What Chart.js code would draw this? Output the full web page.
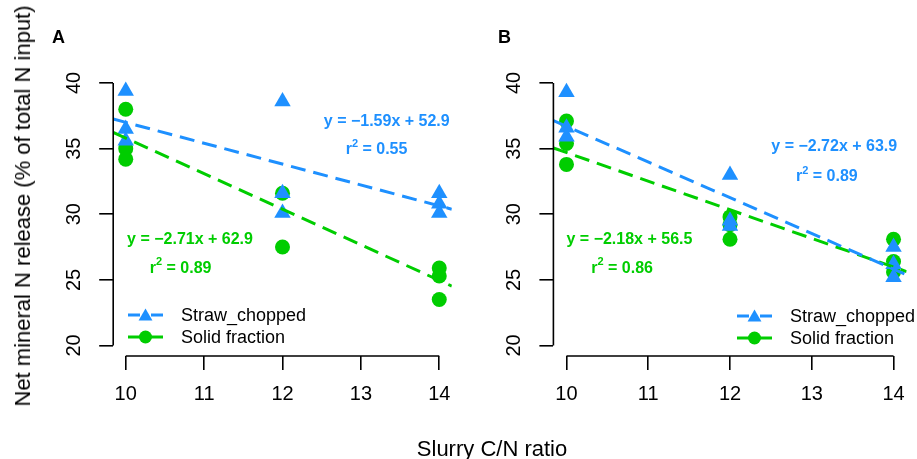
<!DOCTYPE html>
<html>
<head>
<meta charset="utf-8">
<script src="https://cdn.jsdelivr.net/npm/chart.js@4.4.0/dist/chart.umd.min.js"></script>
<style>
  html, body { margin: 0; padding: 0; background: #fff; }
  #wrap { position: relative; width: 917px; height: 459px; overflow: hidden;
          font-family: "Liberation Sans", Arial, sans-serif; color: #000; }
  canvas { position: absolute; top: 0; }
  #chartA { left: 0; }
  #chartB { left: 470px; }
  #ytitle { position: absolute; left: 23px; top: 206px; font-size: 22px; line-height: 26px;
            white-space: nowrap; transform: translate(-50%, -50%) rotate(-90deg); }
  #xtitle { position: absolute; left: 492px; top: 449px; font-size: 22px; line-height: 26px;
            white-space: nowrap; transform: translate(-50%, -50%); }
</style>
</head>
<body>
<div id="wrap">
  <canvas id="chartA" width="470" height="459"></canvas>
  <canvas id="chartB" width="447" height="459"></canvas>
  <div id="ytitle">Net mineral N release (% of total N input)</div>
  <div id="xtitle">Slurry C/N ratio</div>
</div>
<script>
const FONT = "'Liberation Sans', Arial, sans-serif";
const BLUE = "#1E90FF";
const GREEN = "#00CD00";

const xTicks = [10, 11, 12, 13, 14];
const yTicks = [20, 25, 30, 35, 40];
const seriesNames = ["Straw_chopped", "Solid fraction"];

// panel A
const strawXA = [10, 10, 10, 12, 12, 12, 14, 14, 14];
const strawYA = [39.4, 36.5, 35.6, 38.6, 31.6, 30.1, 31.6, 30.8, 30.1];
const solidXA = [10, 10, 10, 12, 12, 14, 14, 14];
const solidYA = [38.0, 35.0, 34.2, 31.6, 27.5, 25.9, 25.3, 23.5];
const strawFitA = [-1.59, 52.9];
const solidFitA = [-2.71, 62.9];
const strawR2A = 0.55;
const solidR2A = 0.89;

// panel B
const strawXB = [10, 10, 10, 12, 12, 12, 14, 14, 14];
const strawYB = [39.3, 36.6, 35.9, 33.0, 29.5, 29.1, 27.5, 26.2, 25.2];
const solidXB = [10, 10, 10, 12, 12, 12, 14, 14, 14];
const solidYB = [37.1, 35.4, 33.8, 29.8, 29.2, 28.1, 28.1, 26.4, 25.6];
const strawFitB = [-2.72, 63.9];
const solidFitB = [-2.18, 56.5];
const strawR2B = 0.89;
const solidR2B = 0.86;

const X_MIN = 9.84, X_MAX = 14.16;
const Y_MIN = 19.2, Y_MAX = 40.8;

const toPoints = (xs, ys) => xs.map((x, i) => ({ x: x, y: ys[i] }));
const fitLine = (fit) => [X_MIN, X_MAX].map(x => ({ x: x, y: fit[0] * x + fit[1] }));
const eqText = (fit) => "y = " + (fit[0] < 0 ? "\u2212" : "") + Math.abs(fit[0]).toFixed(2) + "x + " + fit[1].toFixed(1);

function drawMarker(ctx, style, x, y, r, color) {
  ctx.fillStyle = color;
  ctx.beginPath();
  if (style === "triangle") {
    ctx.moveTo(x, y - r);
    ctx.lineTo(x + r * Math.sqrt(3) / 2, y + r / 2);
    ctx.lineTo(x - r * Math.sqrt(3) / 2, y + r / 2);
    ctx.closePath();
  } else {
    ctx.arc(x, y, r, 0, Math.PI * 2);
  }
  ctx.fill();
}

const decorPlugin = {
  id: "decor",
  afterDraw(chart, args, opts) {
    const ctx = chart.ctx;
    const area = chart.chartArea;
    const xs = chart.scales.x, ys = chart.scales.y;
    ctx.save();

    // R style axis lines, only over the tick range
    ctx.strokeStyle = "#000";
    ctx.lineWidth = 1.6;
    ctx.beginPath();
    ctx.moveTo(xs.getPixelForValue(xTicks[0]), area.bottom);
    ctx.lineTo(xs.getPixelForValue(xTicks[xTicks.length - 1]), area.bottom);
    ctx.moveTo(area.left, ys.getPixelForValue(yTicks[0]));
    ctx.lineTo(area.left, ys.getPixelForValue(yTicks[yTicks.length - 1]));
    ctx.stroke();

    // rotated y tick labels
    ctx.fillStyle = "#000";
    ctx.font = "20px " + FONT;
    ctx.textAlign = "center";
    ctx.textBaseline = "alphabetic";
    ys.ticks.forEach(t => {
      ctx.save();
      ctx.translate(area.left - 33, ys.getPixelForValue(t.value));
      ctx.rotate(-Math.PI / 2);
      ctx.fillText(String(t.value), 0, 0);
      ctx.restore();
    });

    // panel letter
    ctx.font = "bold 18px " + FONT;
    ctx.textAlign = "left";
    ctx.fillText(opts.panel, opts.panelX, 43);

    // regression notes
    opts.notes.forEach(n => {
      const px = xs.getPixelForValue(n.x);
      const py = ys.getPixelForValue(n.y);
      ctx.fillStyle = n.color;
      ctx.textBaseline = "middle";
      if (n.r2 === undefined) {
        ctx.font = "bold 16px " + FONT;
        ctx.textAlign = "center";
        ctx.fillText(n.text, px, py);
      } else {
        const rest = " = " + n.r2.toFixed(2);
        ctx.font = "bold 16px " + FONT;
        const wr = ctx.measureText("r").width;
        const wrest = ctx.measureText(rest).width;
        ctx.font = "bold 11px " + FONT;
        const w2 = ctx.measureText("2").width;
        let x0 = px - (wr + w2 + wrest) / 2;
        ctx.textAlign = "left";
        ctx.font = "bold 16px " + FONT;
        ctx.fillText("r", x0, py);
        ctx.font = "bold 11px " + FONT;
        ctx.fillText("2", x0 + wr, py - 6);
        ctx.font = "bold 16px " + FONT;
        ctx.fillText(rest, x0 + wr + w2, py);
      }
    });

    // legend
    const lg = opts.legend;
    const styles = ["triangle", "circle"];
    const colors = [BLUE, GREEN];
    seriesNames.forEach((name, i) => {
      const y = lg.y + i * 22;
      ctx.strokeStyle = colors[i];
      ctx.lineWidth = 3;
      ctx.setLineDash([12, 11]);
      ctx.beginPath();
      ctx.moveTo(lg.x, y);
      ctx.lineTo(lg.x + 35, y);
      ctx.stroke();
      ctx.setLineDash([]);
      drawMarker(ctx, styles[i], lg.x + 17.5, y + (i === 0 ? 1.5 : 0), i === 0 ? 8 : 6.5, colors[i]);
      ctx.fillStyle = "#000";
      ctx.font = "18px " + FONT;
      ctx.textAlign = "left";
      ctx.textBaseline = "middle";
      ctx.fillText(name, lg.x + 53, y + 1);
    });
    ctx.restore();
  }
};

function makePanel(canvasId, cfg) {
  const gridOpts = {
    drawOnChartArea: false,
    drawTicks: true,
    tickLength: 14,
    tickWidth: 1.6,
    tickColor: "#000",
    color: "#000",
    lineWidth: 1.6
  };
  return new Chart(document.getElementById(canvasId), {
    type: "scatter",
    data: {
      datasets: [
        {
          label: seriesNames[0] + " fit",
          data: fitLine(cfg.strawFit),
          showLine: true,
          borderColor: BLUE,
          borderWidth: 3,
          borderDash: [15, 8],
          pointRadius: 0,
          order: 0
        },
        {
          label: seriesNames[1] + " fit",
          data: fitLine(cfg.solidFit),
          showLine: true,
          borderColor: GREEN,
          borderWidth: 3,
          borderDash: [15, 8],
          pointRadius: 0,
          order: 1
        },
        {
          label: seriesNames[0],
          data: toPoints(cfg.strawX, cfg.strawY),
          pointStyle: "triangle",
          pointRadius: 9.5,
          backgroundColor: BLUE,
          borderWidth: 0,
          order: 2
        },
        {
          label: seriesNames[1],
          data: toPoints(cfg.solidX, cfg.solidY),
          pointStyle: "circle",
          pointRadius: 7.5,
          backgroundColor: GREEN,
          borderWidth: 0,
          order: 3
        }
      ]
    },
    options: {
      responsive: false,
      animation: false,
      events: [],
      layout: { padding: { left: 0, right: cfg.padRight, top: 72.5, bottom: 0 } },
      plugins: {
        legend: { display: false },
        tooltip: { enabled: false },
        decor: {
          panel: cfg.panel,
          panelX: cfg.panelX,
          notes: cfg.notes,
          legend: cfg.legend
        }
      },
      scales: {
        x: {
          type: "linear",
          min: X_MIN,
          max: X_MAX,
          afterBuildTicks: s => { s.ticks = xTicks.map(v => ({ value: v })); },
          afterFit: s => { s.height = 103; },
          border: { display: false },
          grid: gridOpts,
          ticks: { color: "#000", font: { family: FONT, size: 20 }, padding: 12, maxRotation: 0, autoSkip: false }
        },
        y: {
          type: "linear",
          min: Y_MIN,
          max: Y_MAX,
          afterBuildTicks: s => { s.ticks = yTicks.map(v => ({ value: v })); },
          afterFit: s => { s.width = cfg.yWidth; },
          border: { display: false },
          grid: gridOpts,
          ticks: { display: false }
        }
      }
    },
    plugins: [decorPlugin]
  });
}

makePanel("chartA", {
  panel: "A", panelX: 52, padRight: 18.2, yWidth: 113.2,
  strawX: strawXA, strawY: strawYA, solidX: solidXA, solidY: solidYA,
  strawFit: strawFitA, solidFit: solidFitA,
  notes: [
    { x: 13.33, y: 37.06, color: BLUE, text: eqText(strawFitA) },
    { x: 13.2, y: 34.91, color: BLUE, r2: strawR2A },
    { x: 10.82, y: 28.07, color: GREEN, text: eqText(solidFitA) },
    { x: 10.7, y: 25.87, color: GREEN, r2: solidR2A }
  ],
  legend: { x: 128, y: 315 }
});

makePanel("chartB", {
  panel: "B", panelX: 28, padRight: 4.4, yWidth: 83.4,
  strawX: strawXB, strawY: strawYB, solidX: solidXB, solidY: solidYB,
  strawFit: strawFitB, solidFit: solidFitB,
  notes: [
    { x: 13.275, y: 35.12, color: BLUE, text: eqText(strawFitB) },
    { x: 13.185, y: 32.86, color: BLUE, r2: strawR2B },
    { x: 10.77, y: 28.07, color: GREEN, text: eqText(solidFitB) },
    { x: 10.68, y: 25.87, color: GREEN, r2: solidR2B }
  ],
  legend: { x: 267, y: 316 }
});
</script>
</body>
</html>
